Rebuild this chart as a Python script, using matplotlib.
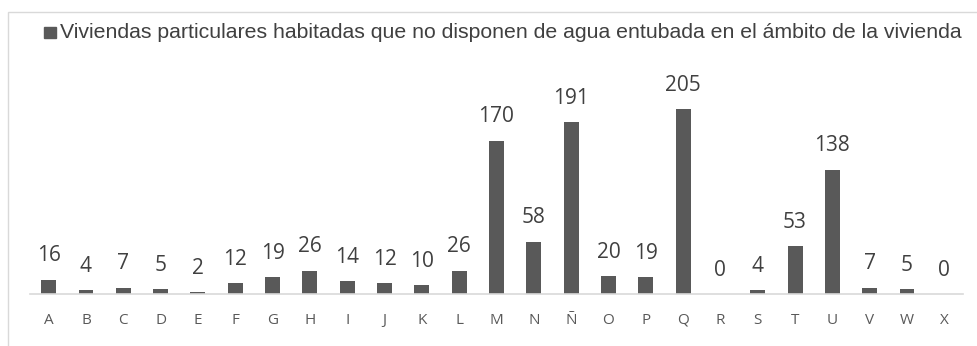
import matplotlib.pyplot as plt
from matplotlib.patches import Rectangle

categorias = ["A", "B", "C", "D", "E", "F", "G", "H", "I", "J", "K", "L", "M",
              "N", "Ñ", "O", "P", "Q", "R", "S", "T", "U", "V", "W", "X"]
viviendas = [16, 4, 7, 5, 2, 12, 19, 26, 14, 12, 10, 26, 170,
             58, 191, 20, 19, 205, 0, 4, 53, 138, 7, 5, 0]
serie = "Viviendas particulares habitadas que no disponen de agua entubada en el ámbito de la vivienda"

W, H = 977, 346
fig = plt.figure(figsize=(W / 100, H / 100), dpi=100)

# marco gris del grafico
fig.patches.append(Rectangle((8 / W, -0.1), 1.2, (H - 12) / H + 0.1,
                             transform=fig.transFigure, fill=False,
                             edgecolor="#d9d9d9", linewidth=1))

left, right, bottom, top = 30, 963, 294, 70
ax = fig.add_axes([left / W, 1 - bottom / H, (right - left) / W, (bottom - top) / H])

x = range(len(categorias))
barras = ax.bar(x, viviendas, width=0.4, color="#595959")
ax.set_xlim(-0.5, len(categorias) - 0.5)
ax.set_ylim(0, (bottom - top) / 0.902)

for b, v in zip(barras, viviendas):
    ax.annotate(str(v), (b.get_x() + b.get_width() / 2, v), xytext=(0, 9.5),
                textcoords="offset points", ha="center", va="bottom",
                fontsize=15, color="#404040", family="Open Sans")

ax.set_xticks(list(x))
ax.set_xticklabels(categorias, fontsize=11, color="#595959", family="Open Sans")
ax.tick_params(axis="x", length=0, pad=13.5)
ax.set_yticks([])
for s in ["top", "right", "left"]:
    ax.spines[s].set_visible(False)
ax.spines["bottom"].set_color("#d9d9d9")
ax.spines["bottom"].set_linewidth(1.2)

# leyenda
fig.patches.append(Rectangle((44 / W, 1 - 38 / H), 12 / W, 11 / H,
                             transform=fig.transFigure, color="#595959"))
fig.text(60 / W, 1 - 32 / H, serie, fontsize=15.3, color="#404040",
         family="Liberation Sans", va="center", ha="left")

fig.savefig("out.png", dpi=100)
